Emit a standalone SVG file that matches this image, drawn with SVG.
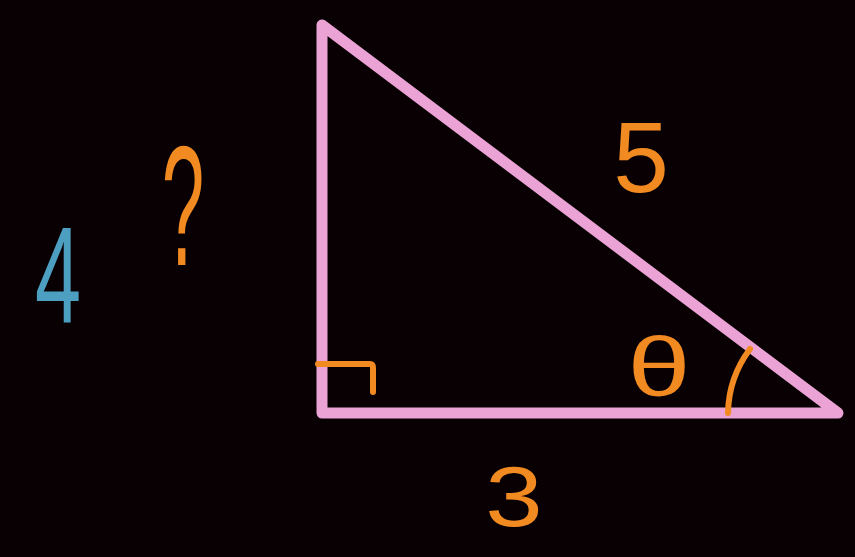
<svg xmlns="http://www.w3.org/2000/svg" width="855" height="557" viewBox="0 0 855 557">
<style>
.lbl{font-family:"Liberation Sans","DejaVu Sans",sans-serif;fill:#f28a22;text-anchor:middle}
.mark{fill:none;stroke:#f28a22;stroke-width:6;stroke-linecap:round;stroke-linejoin:round}
</style>
<rect width="855" height="557" fill="#080003"/>
<g id="triangle">
<path d="M322,25 L322,413 L838,413 Z" fill="none" stroke="#eba3d6" stroke-width="11" stroke-linejoin="round"/>
</g>
<g id="right-angle">
<path class="mark" d="M318,364 L370,364 Q373,364 373,368 L373,392"/>
</g>
<g id="angle-arc">
<path class="mark" d="M750,349 A110,110 0 0 0 728,413"/>
</g>
<g id="labels">
<text class="lbl" transform="translate(183,265) scale(0.45,1)" font-size="170">?</text>
<text class="lbl" transform="translate(58,322) scale(0.6,1)" font-size="138" style="fill:#4d9fc2">4</text>
<text class="lbl" x="641" y="192" font-size="100">5</text>
<text class="lbl" transform="translate(514,526) scale(1.2,1)" font-size="86">3</text>
<text class="lbl" transform="translate(659,396) scale(1.35,1)" font-size="84">θ</text>
</g>
</svg>
